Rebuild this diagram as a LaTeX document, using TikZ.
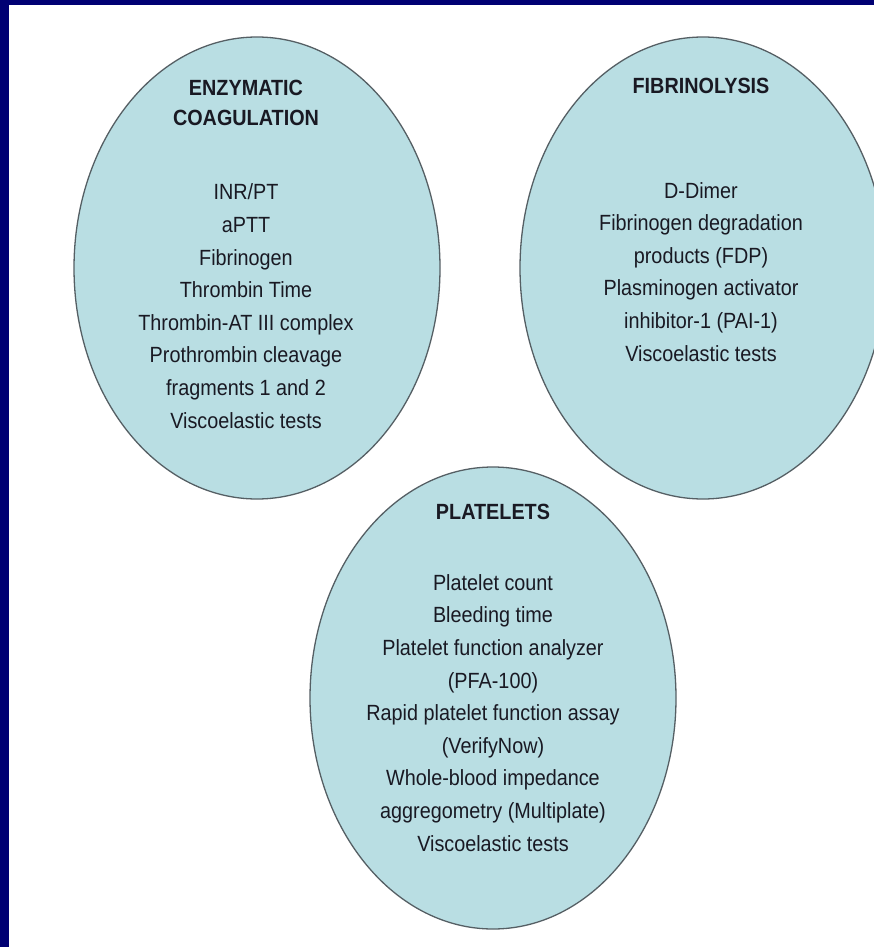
\documentclass[tikz,border=0pt]{standalone}
\usepackage{fontspec}
\setmainfont[FakeStretch=0.9]{Liberation Sans}
\usetikzlibrary{shapes.geometric}
\definecolor{framebg}{RGB}{0,0,115}
\definecolor{cellfill}{RGB}{185,222,227}
\definecolor{cellline}{RGB}{85,95,100}
\definecolor{ink}{RGB}{25,25,35}
\begin{document}
\begin{tikzpicture}[x=1pt,y=-1pt,
  bubble/.style={ellipse, draw=cellline, line width=1.3pt, fill=cellfill, inner sep=0pt, minimum width=366pt, minimum height=462pt},
  headtext/.style={font=\fontsize{22}{30}\selectfont\bfseries, text=ink, align=center, anchor=base, inner sep=0pt},
  bodytext/.style={font=\fontsize{22}{32.6}\selectfont, text=ink, align=center, anchor=base, inner sep=0pt}]
\fill[framebg] (0,0) rectangle (874,947);
\fill[white] (9,5) rectangle (874,947);
\useasboundingbox (0,0) rectangle (874,947);
\begin{scope}
\clip (0,0) rectangle (874,947);
\node[bubble] (enz) at (257,268) {};
\node[bubble] (fib) at (703,268) {};
\node[bubble] (plt) at (493,698) {};
\end{scope}
% anchor=base of a multi-line node is the baseline of its last line
\node[headtext] (enzhead) at (246,125) {ENZYMATIC\\COAGULATION};
\node[bodytext] (enzbody) at (246,428) {INR/PT\\aPTT\\Fibrinogen\\Thrombin Time\\Thrombin-AT III complex\\Prothrombin cleavage\\fragments 1 and 2\\Viscoelastic tests};
\node[headtext] (fibhead) at (701,94) {FIBRINOLYSIS};
\node[bodytext] (fibbody) at (701,361) {D-Dimer\\Fibrinogen degradation\\products (FDP)\\Plasminogen activator\\inhibitor-1 (PAI-1)\\Viscoelastic tests};
\node[headtext] (plthead) at (493,519) {PLATELETS};
\node[bodytext] (pltbody) at (493,851) {Platelet count\\Bleeding time\\Platelet function analyzer\\(PFA-100)\\Rapid platelet function assay\\(VerifyNow)\\Whole-blood impedance\\aggregometry (Multiplate)\\Viscoelastic tests};
\end{tikzpicture}
\end{document}
